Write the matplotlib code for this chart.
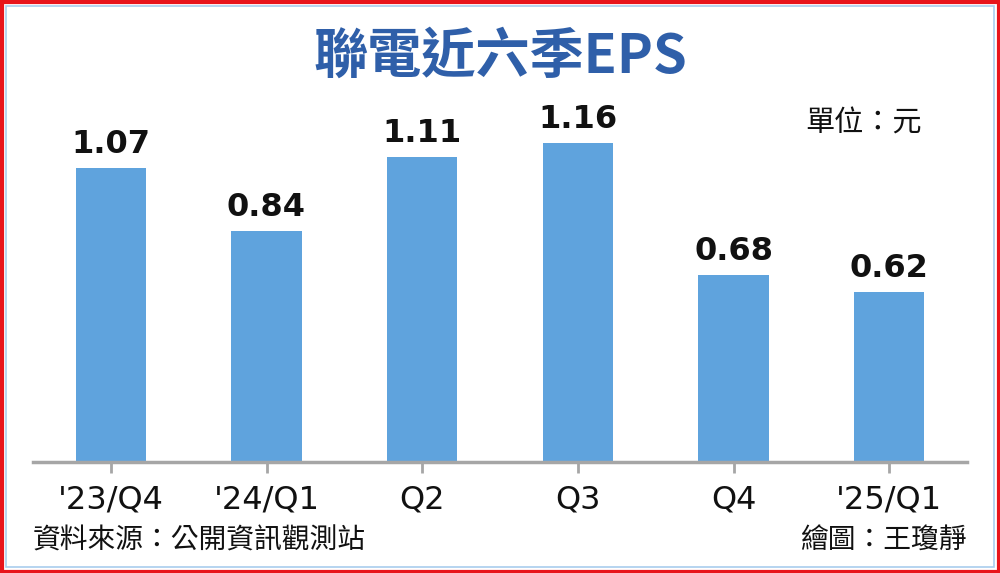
import matplotlib.pyplot as plt
from matplotlib.patches import Rectangle

plt.rcParams['font.family'] = ['Noto Sans CJK TC', 'DejaVu Sans']

# EPS for the last six quarters (元)
quarters = ["'23/Q4", "'24/Q1", "Q2", "Q3", "Q4", "'25/Q1"]
eps = [1.07, 0.84, 1.11, 1.16, 0.68, 0.62]

W, H = 1000, 573
fig = plt.figure(figsize=(W / 100, H / 100), dpi=100)

# frame: red outer border, light blue inner line
fig.patches.append(Rectangle((1.5 / W, 1.5 / H), 1 - 3 / W, 1 - 3 / H, transform=fig.transFigure,
                             fill=False, edgecolor='#e8141b', linewidth=3))
fig.patches.append(Rectangle((6 / W, 6 / H), 1 - 12 / W, 1 - 12 / H, transform=fig.transFigure,
                             fill=False, edgecolor='#a9cdee', linewidth=1.2))

# axes placed in pixel terms: baseline at y=462, left 33, right 967
ax = fig.add_axes([33 / W, 111 / H, 934 / W, 362 / H])
x = range(len(quarters))
ax.bar(x, eps, width=0.45, color='#5fa3dd')
ax.set_xlim(-0.5, 5.5)
ax.set_ylim(0, 362 / 275)

for xi, v in zip(x, eps):
    ax.text(xi, v + 0.028, f'{v:.2f}', ha='center', va='bottom',
            fontsize=23, fontweight='bold', family='DejaVu Sans', color='#111111')

for s in ['top', 'right', 'left']:
    ax.spines[s].set_visible(False)
ax.spines['bottom'].set_color('#a6a6a6')
ax.spines['bottom'].set_linewidth(2.5)
ax.set_yticks([])
ax.set_xticks(list(x))
ax.set_xticklabels(quarters, fontsize=23, family='DejaVu Sans', color='#111111')
ax.tick_params(axis='x', length=8, width=2, color='#a6a6a6', pad=8)

fig.text(0.5, 1 - 57 / H, '聯電近六季EPS', ha='center', va='center',
         fontsize=39, fontweight='bold', color='#2f5fa9')
fig.text(922 / W, 1 - 124 / H, '單位：元', ha='right', va='center', fontsize=21, color='#111111')
fig.text(33 / W, 1 - 541 / H, '資料來源：公開資訊觀測站', ha='left', va='center', fontsize=20, color='#111111')
fig.text(967 / W, 1 - 541 / H, '繪圖：王瓊靜', ha='right', va='center', fontsize=20, color='#111111')

fig.savefig('out.png', dpi=100)
